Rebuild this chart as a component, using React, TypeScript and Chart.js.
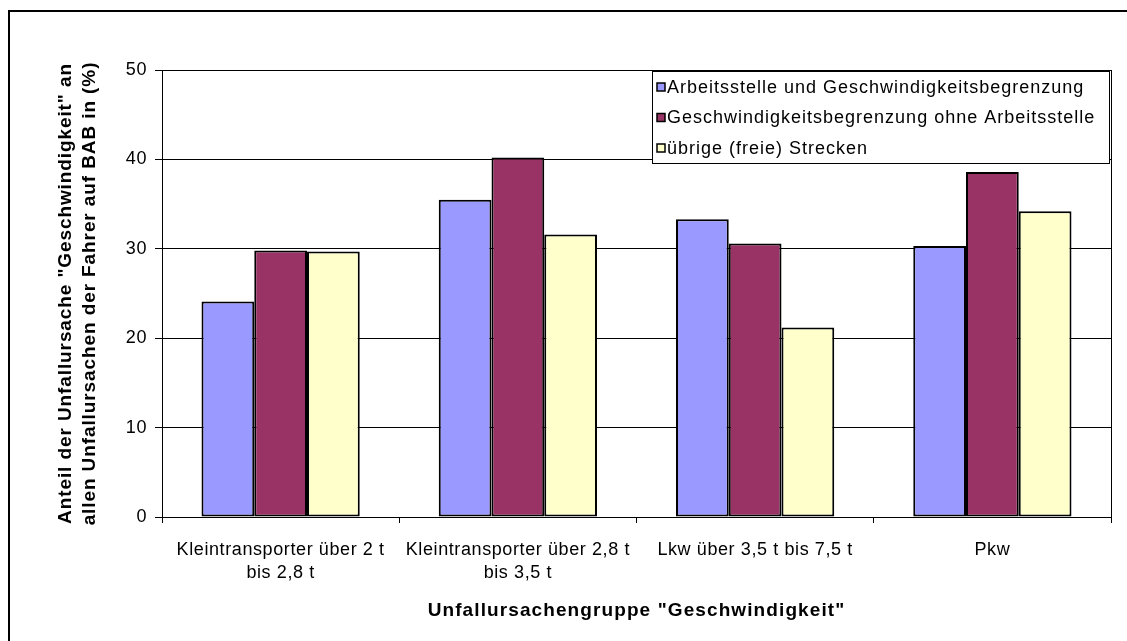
import React, { useEffect, useRef } from "react";
import { Chart, registerables } from "chart.js";

Chart.register(...registerables);

const categories: string[][] = [
  ["Kleintransporter über 2 t", "bis 2,8 t"],
  ["Kleintransporter über 2,8 t", "bis 3,5 t"],
  ["Lkw über 3,5 t bis 7,5 t"],
  ["Pkw"],
];
const seriesNames = [
  "Arbeitsstelle und Geschwindigkeitsbegrenzung",
  "Geschwindigkeitsbegrenzung ohne Arbeitsstelle",
  "übrige (freie) Strecken",
];
const arbeitsstelle = [24.1, 35.5, 33.3, 30.3];
const ohneArbeitsstelle = [29.8, 40.2, 30.6, 38.6];
const uebrige = [29.7, 31.6, 21.2, 34.2];
const seriesColors = ["#9999FF", "#993366", "#FFFFCC"];
const yTicks = [0, 10, 20, 30, 40, 50];
const yTitle = [
  'Anteil der Unfallursache "Geschwindigkeit" an',
  "allen Unfallursachen der Fahrer auf BAB in (%)",
];
const xTitle = 'Unfallursachengruppe "Geschwindigkeit"';

const FONT = '"Liberation Sans", Arial, Helvetica, sans-serif';

const decorPlugin = {
  id: "decor",
  beforeDraw(chart: any) {
    (chart.ctx as any).letterSpacing = "0.6px";
  },
  afterDraw(chart: any) {
    const ctx = chart.ctx as CanvasRenderingContext2D & { letterSpacing: string };
    const a = chart.chartArea;
    ctx.save();
    // plot right border
    ctx.strokeStyle = "#000";
    ctx.lineWidth = 1;
    ctx.beginPath();
    ctx.moveTo(Math.round(a.right) + 0.5, a.top);
    ctx.lineTo(Math.round(a.right) + 0.5, a.bottom);
    ctx.stroke();

    // x title
    ctx.fillStyle = "#000";
    ctx.font = `bold 19px ${FONT}`;
    ctx.letterSpacing = "1.1px";
    ctx.textAlign = "center";
    ctx.textBaseline = "middle";
    ctx.fillText(xTitle, (a.left + a.right) / 2, 599);

    // y title
    const cy = (a.top + a.bottom) / 2;
    ctx.letterSpacing = "0.9px";
    [56, 80].forEach((x, i) => {
      ctx.save();
      ctx.translate(x, cy);
      ctx.rotate(-Math.PI / 2);
      ctx.fillText(yTitle[i], 0, 0);
      ctx.restore();
    });

    // legend
    const lx = a.right - 459;
    const ly = a.top + 1;
    const lw = 457;
    const lh = 92;
    ctx.fillStyle = "#fff";
    ctx.fillRect(lx, ly, lw, lh);
    ctx.strokeStyle = "#000";
    ctx.lineWidth = 1;
    ctx.strokeRect(Math.round(lx) + 0.5, Math.round(ly) + 0.5, lw, lh);
    ctx.font = `18px ${FONT}`;
    ctx.letterSpacing = "1px";
    ctx.textAlign = "left";
    ctx.textBaseline = "middle";
    seriesNames.forEach((name, i) => {
      const y = ly + 17 + i * 30.5;
      ctx.fillStyle = seriesColors[i];
      ctx.fillRect(lx + 5, y - 5, 8, 8);
      ctx.strokeStyle = "#000";
      ctx.lineWidth = 1.5;
      ctx.strokeRect(lx + 5, y - 5, 8, 8);
      ctx.fillStyle = "#000";
      ctx.fillText(name, lx + 15, y);
    });
    ctx.restore();
  },
};

export default function App() {
  const ref = useRef<HTMLCanvasElement | null>(null);
  useEffect(() => {
    document.body.style.overflow = "hidden";
    if (!ref.current) return;
    const datasetsData = [arbeitsstelle, ohneArbeitsstelle, uebrige];
    const chart = new Chart(ref.current, {
      type: "bar",
      data: {
        labels: categories,
        datasets: datasetsData.map((d, i) => ({
          label: seriesNames[i],
          data: d,
          backgroundColor: seriesColors[i],
          borderColor: "#000",
          borderWidth: 2,
          borderSkipped: false,
          categoryPercentage: 0.667,
          barPercentage: 1,
        })),
      },
      options: {
        animation: false,
        responsive: false,
        maintainAspectRatio: false,
        layout: { padding: { top: 58, right: 16, left: 0, bottom: 0 } },
        plugins: {
          legend: { display: false },
          tooltip: { enabled: false },
        },
        scales: {
          x: {
            offset: true,
            grid: {
              display: true,
              drawOnChartArea: false,
              drawTicks: true,
              tickLength: 6,
              color: "#000",
              offset: true,
            },
            border: { display: true, color: "#000", width: 1 },
            ticks: {
              color: "#000",
              font: { family: FONT, size: 18, lineHeight: 1.3 },
              padding: 15,
              maxRotation: 0,
              minRotation: 0,
              autoSkip: false,
            },
            afterFit: (s: any) => {
              s.height = 124;
            },
          },
          y: {
            min: yTicks[0],
            max: yTicks[yTicks.length - 1],
            ticks: {
              stepSize: yTicks[1] - yTicks[0],
              color: "#000",
              font: { family: FONT, size: 18 },
              padding: 8,
            },
            grid: { color: "#000", tickLength: 7, drawTicks: true, lineWidth: 1 },
            border: { display: true, color: "#000", width: 1 },
            afterFit: (s: any) => {
              s.width = 152;
            },
          },
        },
      },
      plugins: [decorPlugin],
    });
    return () => chart.destroy();
  }, []);

  return (
    <div
      style={{
        position: "absolute",
        left: 8,
        top: 10,
        borderLeft: "2px solid #000",
        borderTop: "2px solid #000",
        width: 1117,
        height: 629,
        background: "#fff",
      }}
    >
      <canvas ref={ref} width={1117} height={629} style={{ display: "block", width: 1117, height: 629 }} />
    </div>
  );
}
